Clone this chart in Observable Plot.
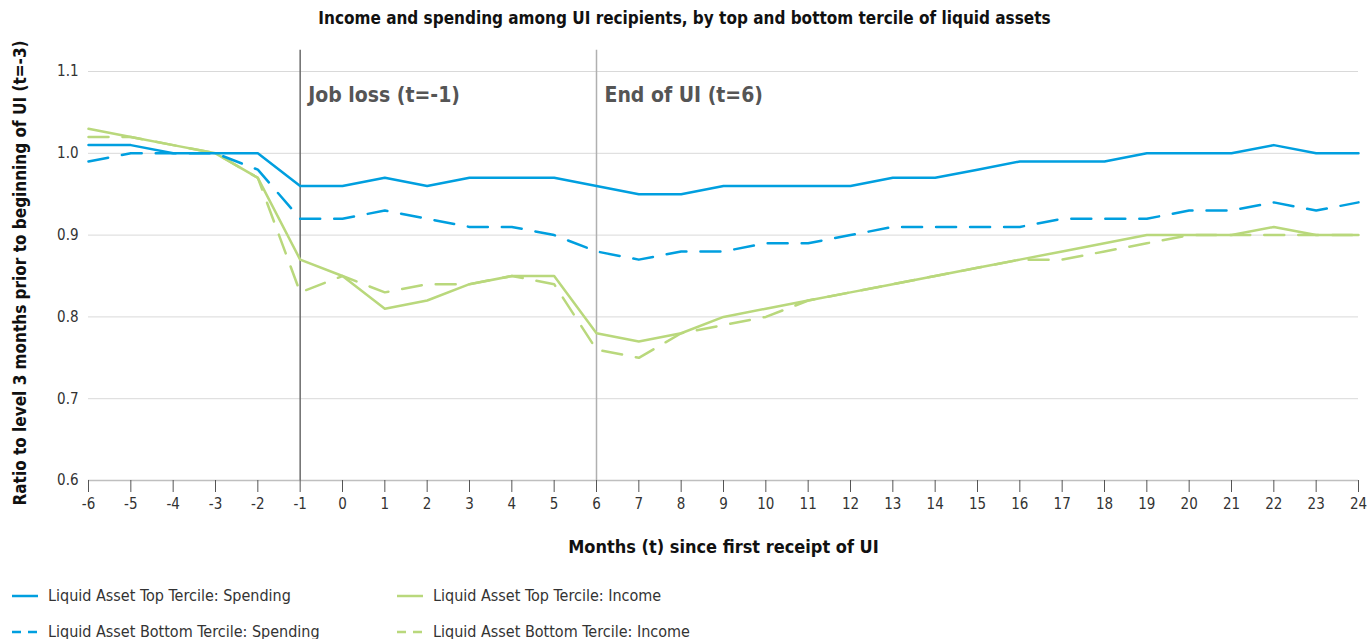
<!DOCTYPE html>
<html>
<head>
<meta charset="utf-8">
<script src="https://cdn.jsdelivr.net/npm/d3@7"></script>
<script src="https://cdn.jsdelivr.net/npm/@observablehq/plot@0.6"></script>
<style>
  html, body { margin: 0; padding: 0; background: #fff; }
  body { width: 1369px; height: 639px; overflow: hidden; font-family: "Liberation Sans Narrow", "DejaVu Sans Condensed", "Roboto", sans-serif; }
  #title { height: 36px; line-height: 36px; text-align: center; font-size: 17px; font-weight: bold; color: #111; }
  #legend { position: relative; font-size: 16px; color: #333; }
  .item { position: absolute; display: flex; align-items: center; white-space: nowrap; }
  .item svg { margin-right: 10px; }
</style>
</head>
<body>
<div id="title">Income and spending among UI recipients, by top and bottom tercile of liquid assets</div>
<div id="chart"></div>
<div id="legend"></div>
<script>
const months = [-6,-5,-4,-3,-2,-1,0,1,2,3,4,5,6,7,8,9,10,11,12,13,14,15,16,17,18,19,20,21,22,23,24];
const topSpending    = [1.01,1.01,1.00,1.00,1.00,0.96,0.96,0.97,0.96,0.97,0.97,0.97,0.96,0.95,0.95,0.96,0.96,0.96,0.96,0.97,0.97,0.98,0.99,0.99,0.99,1.00,1.00,1.00,1.01,1.00,1.00];
const bottomSpending = [0.99,1.00,1.00,1.00,0.98,0.92,0.92,0.93,0.92,0.91,0.91,0.90,0.88,0.87,0.88,0.88,0.89,0.89,0.90,0.91,0.91,0.91,0.91,0.92,0.92,0.92,0.93,0.93,0.94,0.93,0.94];
const topIncome      = [1.03,1.02,1.01,1.00,0.97,0.87,0.85,0.81,0.82,0.84,0.85,0.85,0.78,0.77,0.78,0.80,0.81,0.82,0.83,0.84,0.85,0.86,0.87,0.88,0.89,0.90,0.90,0.90,0.91,0.90,0.90];
const bottomIncome   = [1.02,1.02,1.01,1.00,0.97,0.83,0.85,0.83,0.84,0.84,0.85,0.84,0.76,0.75,0.78,0.79,0.80,0.82,0.83,0.84,0.85,0.86,0.87,0.87,0.88,0.89,0.90,0.90,0.90,0.90,0.90];
const yTicks = [0.6,0.7,0.8,0.9,1.0,1.1];
const events = [{t:-1, label:"Job loss (t=-1)", color:"#6b6b6b"}, {t:6, label:"End of UI (t=6)", color:"#b0b0b0"}];
const seriesNames = ["Liquid Asset Top Tercile: Spending","Liquid Asset Bottom Tercile: Spending","Liquid Asset Top Tercile: Income","Liquid Asset Bottom Tercile: Income"];
const yLabel = "Ratio to level 3 months prior to beginning of UI (t=-3)";

const BLUE = "#009fdf", GREEN = "#b9d87c";
const styles = [
  {color: BLUE, dash: null},
  {color: BLUE, dash: "20,14"},
  {color: GREEN, dash: null},
  {color: GREEN, dash: "20,14"}
];
const allSeries = [topSpending, bottomSpending, topIncome, bottomIncome];
const rows = (i) => months.map((t, j) => ({t, v: allSeries[i][j], s: seriesNames[i]}));

const fontFam = '"Liberation Sans Narrow", "DejaVu Sans Condensed", Roboto, sans-serif';

const chart = Plot.plot({
  width: 1369,
  height: 530,
  marginLeft: 88,
  marginRight: 11,
  marginTop: 35,
  marginBottom: 86,
  style: {fontFamily: fontFam, fontSize: "15px", color: "#333", overflow: "visible"},
  x: {domain: [-6, 24]},
  y: {domain: [0.6, 1.1]},
  marks: [
    Plot.gridY(yTicks.slice(1), {stroke: "#d9d9d9", strokeOpacity: 1}),
    Plot.ruleY([0.6], {stroke: "#bfbfbf", strokeWidth: 1.5}),
    Plot.axisX({ticks: months, tickSize: 12, tickPadding: 6, tickFormat: d => String(d), stroke: "#555", label: "Months (t) since first receipt of UI", labelAnchor: "center", labelArrow: "none", labelOffset: 72, fontSize: 15, fill: "#333"}),
    Plot.axisY({ticks: yTicks, tickSize: 0, tickPadding: 10, tickFormat: d3.format(".1f"), label: null, fontSize: 15, fill: "#333"}),
    Plot.text([yLabel], {text: d => d, frameAnchor: "left", textAnchor: "middle", rotate: -90, dx: -68, dy: -3, fontSize: 17, fontWeight: "bold", fill: "#111"}),
    Plot.ruleX(events, {x: "t", y1: 0.6, y2: 1.126, stroke: "color", strokeWidth: 1.5}),
    Plot.text(events, {x: "t", y: 1.071, text: "label", dx: 8, textAnchor: "start", fontSize: 21, fontWeight: "bold", fill: "#555"}),
    ...[3,2,1,0].map(i => Plot.line(rows(i), {x: "t", y: "v", stroke: styles[i].color, strokeWidth: 2.5, strokeDasharray: styles[i].dash, curve: "linear"}))
  ]
});
chart.querySelectorAll('[aria-label="x-axis label"] text').forEach(t => { t.setAttribute("font-weight", "bold"); t.setAttribute("font-size", "18"); t.setAttribute("fill", "#111"); });
document.getElementById("chart").appendChild(chart);

const legend = document.getElementById("legend");
const pos = [[12, 20], [12, 56], [397, 20], [397, 56]];
seriesNames.forEach((name, i) => {
  const d = document.createElement("div");
  d.className = "item";
  d.style.left = pos[i][0] + "px";
  d.style.top = pos[i][1] + "px";
  d.innerHTML = `<svg width="26" height="6"><line x1="0" y1="3" x2="26" y2="3" stroke="${styles[i].color}" stroke-width="2.5" ${styles[i].dash ? 'stroke-dasharray="9,7"' : ''}/></svg><span>${name}</span>`;
  legend.appendChild(d);
});
</script>
</body>
</html>
